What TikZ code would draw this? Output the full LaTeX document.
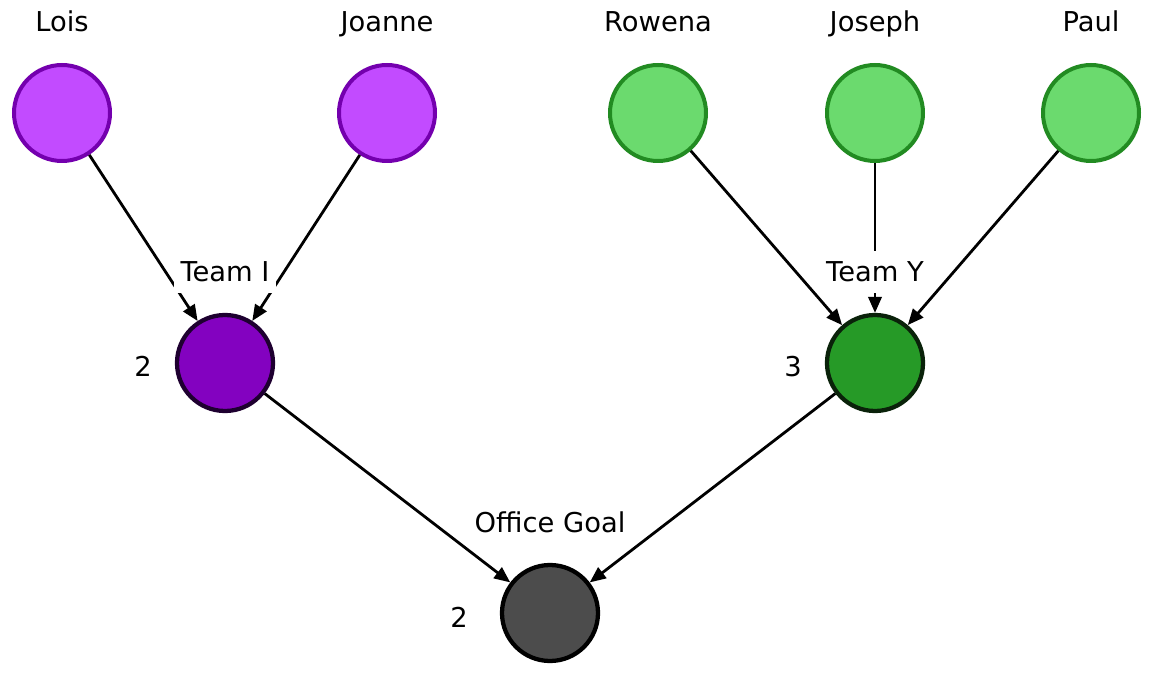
\documentclass[tikz,border=0pt]{standalone}
\usepackage{fontspec}
\setmainfont{DejaVu Sans}
\usetikzlibrary{positioning, arrows.meta}

\definecolor{lilac}{HTML}{C24BFF}
\definecolor{lilacline}{HTML}{7400AE}
\definecolor{violetteam}{HTML}{8302C0}
\definecolor{violetline}{HTML}{1E0030}
\definecolor{mint}{HTML}{6BDA6E}
\definecolor{mintline}{HTML}{228B22}
\definecolor{greenteam}{HTML}{269A27}
\definecolor{greenline}{HTML}{0A220A}
\definecolor{goalgrey}{HTML}{4C4C4C}

\begin{document}
\begin{tikzpicture}[
  x=0.75pt, y=-0.75pt,
  person/.style={circle, minimum size=72pt, inner sep=0pt, line width=3pt},
  ipers/.style={person, fill=lilac, draw=lilacline},
  ypers/.style={person, fill=mint, draw=mintline},
  team/.style={person, line width=3.2pt},
  pname/.style={anchor=base, font=\fontsize{20.5}{24}\selectfont},
  tag/.style={pname, fill=white, inner xsep=5pt, inner ysep=8pt},
  count/.style={anchor=base, font=\fontsize{20.5}{24}\selectfont},
  arr/.style={-{Triangle[length=12pt, width=10pt]}, line width=2.1pt, black}
]
\useasboundingbox (0,0) rectangle (1154,677);

% people
\node[ipers] (lois)   at (62,113) {};
\node[ipers] (joanne) at (387,113) {};
\node[ypers] (rowena) at (658,113) {};
\node[ypers] (joseph) at (875,113) {};
\node[ypers] (paul)   at (1091,113) {};

\node[pname] (lLois)   at (62,32)   {Lois};
\node[pname] (lJoanne) at (387,32)  {Joanne};
\node[pname] (lRowena) at (658,32)  {Rowena};
\node[pname] (lJoseph) at (875,32)  {Joseph};
\node[pname] (lPaul)   at (1091,32) {Paul};

% teams and goal
\node[team, fill=violetteam, draw=violetline] (teamI) at (225,363) {};
\node[team, fill=greenteam, draw=greenline]  (teamY) at (875,363) {};
\node[team, fill=goalgrey, draw=black]       (goal)  at (550,613) {};

\draw[arr] (lois) -- (teamI);
\draw[arr] (joanne) -- (teamI);
\draw[arr] (rowena) -- (teamY);
\draw[arr] (joseph) -- (teamY);
\draw[arr] (paul) -- (teamY);
\draw[arr] (teamI) -- (goal);
\draw[arr] (teamY) -- (goal);

% labels over the edges
\node[tag] (tagI) at (225,282) {Team I};
\node[tag] (tagY) at (875,282) {Team Y};
\node[tag] (tagG) at (550,532) {Office Goal};

\node[count] (nI) at (143,377) {2};
\node[count] (nY) at (793,377) {3};
\node[count] (nG) at (459,627) {2};
\end{tikzpicture}
\end{document}
